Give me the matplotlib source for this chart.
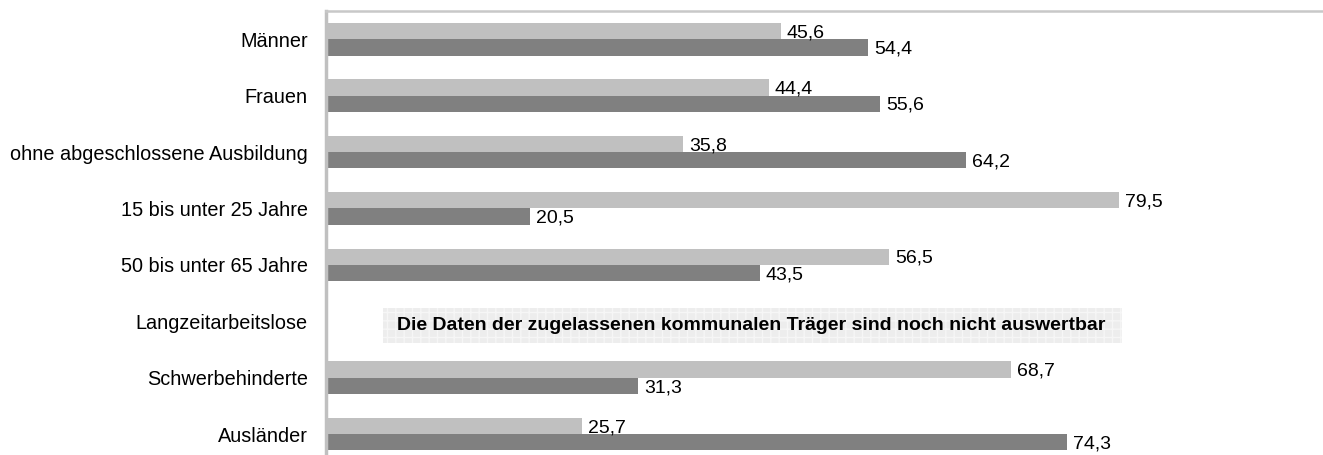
import matplotlib.pyplot as plt
from matplotlib import rcParams
from matplotlib.patches import Rectangle

rcParams['font.family'] = 'sans-serif'
rcParams['font.sans-serif'] = ['Liberation Sans', 'DejaVu Sans']
rcParams['font.size'] = 14
rcParams['hatch.linewidth'] = 1.0

# hard coded data (percent)
categories = ['Männer', 'Frauen', 'ohne abgeschlossene Ausbildung',
              '15 bis unter 25 Jahre', '50 bis unter 65 Jahre',
              'Langzeitarbeitslose', 'Schwerbehinderte', 'Ausländer']
light_vals = [45.6, 44.4, 35.8, 79.5, 56.5, None, 68.7, 25.7]
dark_vals = [54.4, 55.6, 64.2, 20.5, 43.5, None, 31.3, 74.3]
note = 'Die Daten der zugelassenen kommunalen Träger sind noch nicht auswertbar'
note_row = 5

light_col = '#c0c0c0'
dark_col = '#808080'
bar_h = 0.29

fig = plt.figure(figsize=(13.23, 4.55), dpi=100)
ax = fig.add_axes([326/1323, 0, 1 - 326/1323, 1 - 11/455])

for i, (lv, dv) in enumerate(zip(light_vals, dark_vals)):
    if lv is None:
        continue
    ax.barh(i - bar_h/2, lv, height=bar_h, color=light_col, linewidth=0)
    ax.barh(i + bar_h/2, dv, height=bar_h, color=dark_col, linewidth=0)
    ax.text(lv + 0.6, i - bar_h/2 + 0.03, ('%.1f' % lv).replace('.', ','),
            va='center', ha='left', fontsize=14)
    ax.text(dv + 0.6, i + bar_h/2 + 0.03, ('%.1f' % dv).replace('.', ','),
            va='center', ha='left', fontsize=14)

# note box for the missing row
ax.add_patch(Rectangle((5.7, note_row - 0.23), 74.1, 0.62,
                       facecolor='#ededed', edgecolor='#f6f6f6', hatch='++',
                       linewidth=0, zorder=1))
ax.text(42.6, note_row + 0.08, note, ha='center', va='center',
        fontsize=14, fontweight='bold', zorder=2)

ax.set_xlim(0, 100)
ax.set_ylim(7.37, -0.5)

ax.set_yticks(range(len(categories)))
ax.set_yticklabels(categories, fontsize=14.3)
ax.tick_params(axis='y', length=0, pad=13)
ax.tick_params(axis='x', length=0, labelbottom=False)

for s in ['right', 'bottom']:
    ax.spines[s].set_visible(False)
ax.spines['left'].set_color('#c0c0c0')
ax.spines['left'].set_linewidth(2.5)
ax.spines['top'].set_color('#c8c8c8')
ax.spines['top'].set_linewidth(1.8)

fig.savefig('out.png', dpi=100)
